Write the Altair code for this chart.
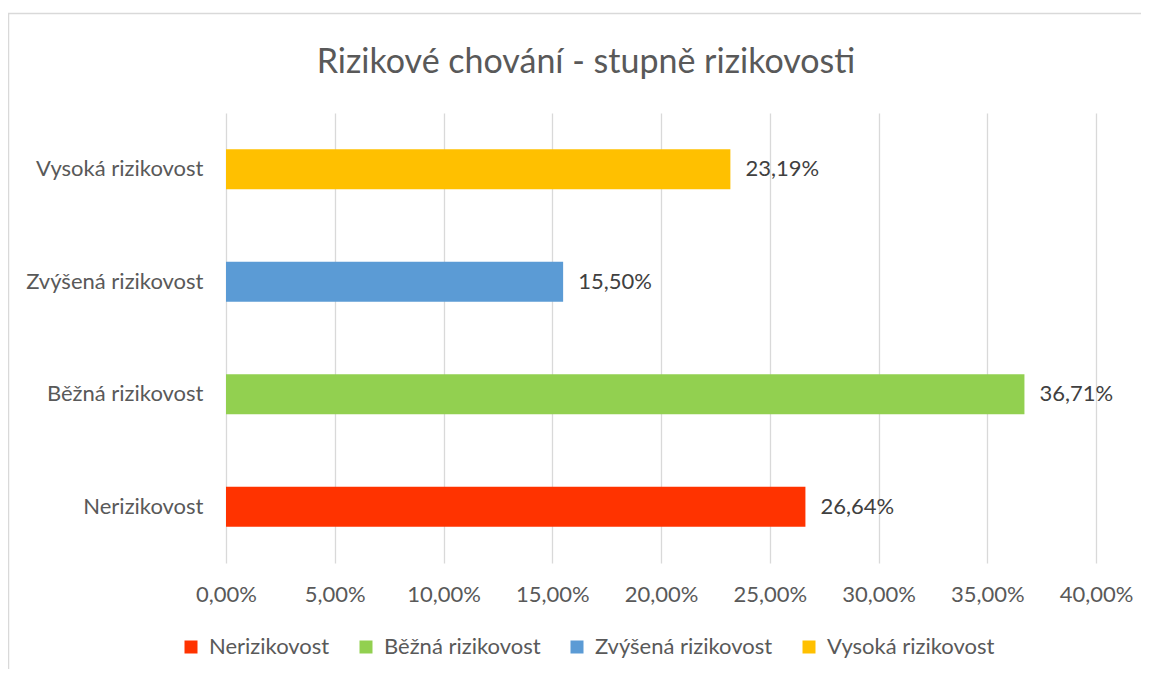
import altair as alt
import pandas as pd

categories = ["Nerizikovost", "Běžná rizikovost", "Zvýšená rizikovost", "Vysoká rizikovost"]
values = [26.64, 36.71, 15.50, 23.19]
colors = ["#FF3300", "#92D050", "#5B9BD5", "#FFC000"]

df = pd.DataFrame({"cat": categories, "val": values})

FONT = "Lato"
GREY = "#595959"
FS = 22

base = alt.Chart(df).encode(
    y=alt.Y("cat:N", sort=list(reversed(categories)),
            scale=alt.Scale(paddingInner=0.0, paddingOuter=0.0),
            axis=alt.Axis(title=None, domain=False, ticks=False, labelPadding=23,
                          labelFontSize=FS, labelColor=GREY, labelFont=FONT)),
)

bars = base.mark_bar(size=40).encode(
    x=alt.X("val:Q", scale=alt.Scale(domain=[0, 40]),
            axis=alt.Axis(title=None, values=[0, 5, 10, 15, 20, 25, 30, 35, 40],
                          labelExpr="replace(format(datum.value, '.2f'), '.', ',') + '%'",
                          domain=False, ticks=False, grid=True, gridColor="#d9d9d9",
                          gridWidth=1.3, labelPadding=21, labelFontSize=FS,
                          labelColor=GREY, labelFont=FONT, labelOverlap=False,
                          labelFlush=False)),
    color=alt.Color("cat:N", sort=categories,
                    scale=alt.Scale(domain=categories, range=colors),
                    legend=alt.Legend(title=None, orient="none", direction="horizontal",
                                      legendX=-46, legendY=523, symbolType="square",
                                      symbolSize=169, symbolStrokeWidth=0,
                                      labelFontSize=FS, labelColor=GREY, labelFont=FONT,
                                      labelOffset=7, columnPadding=25, labelLimit=400)),
)

labels = base.transform_calculate(
    lbl="replace(format(datum.val, '.2f'), '.', ',') + '%'"
).mark_text(align="left", dx=15, fontSize=FS, color="#404040", font=FONT).encode(
    x="val:Q", text="lbl:N"
)

border = alt.Chart(pd.DataFrame({"a": [0]})).mark_rect(
    fillOpacity=0, stroke="#d9d9d9", strokeWidth=1.5
).encode(x=alt.value(-217.5), x2=alt.value(1200), y=alt.value(-99.5), y2=alt.value(800))

chart = alt.layer(border, bars, labels).properties(
    width=870, height=450,
    title=alt.TitleParams("Rizikové chování - stupně rizikovosti", fontSize=34,
                          font=FONT, color=GREY, fontWeight="normal",
                          anchor="middle", dx=-75, offset=-67),
    autosize=alt.AutoSizeParams(type="none"),
    padding={"left": 218, "top": 105, "right": 45, "bottom": 106},
).configure_view(stroke=None)

chart.save("out.html", embed_options={"renderer": "svg", "actions": False})
